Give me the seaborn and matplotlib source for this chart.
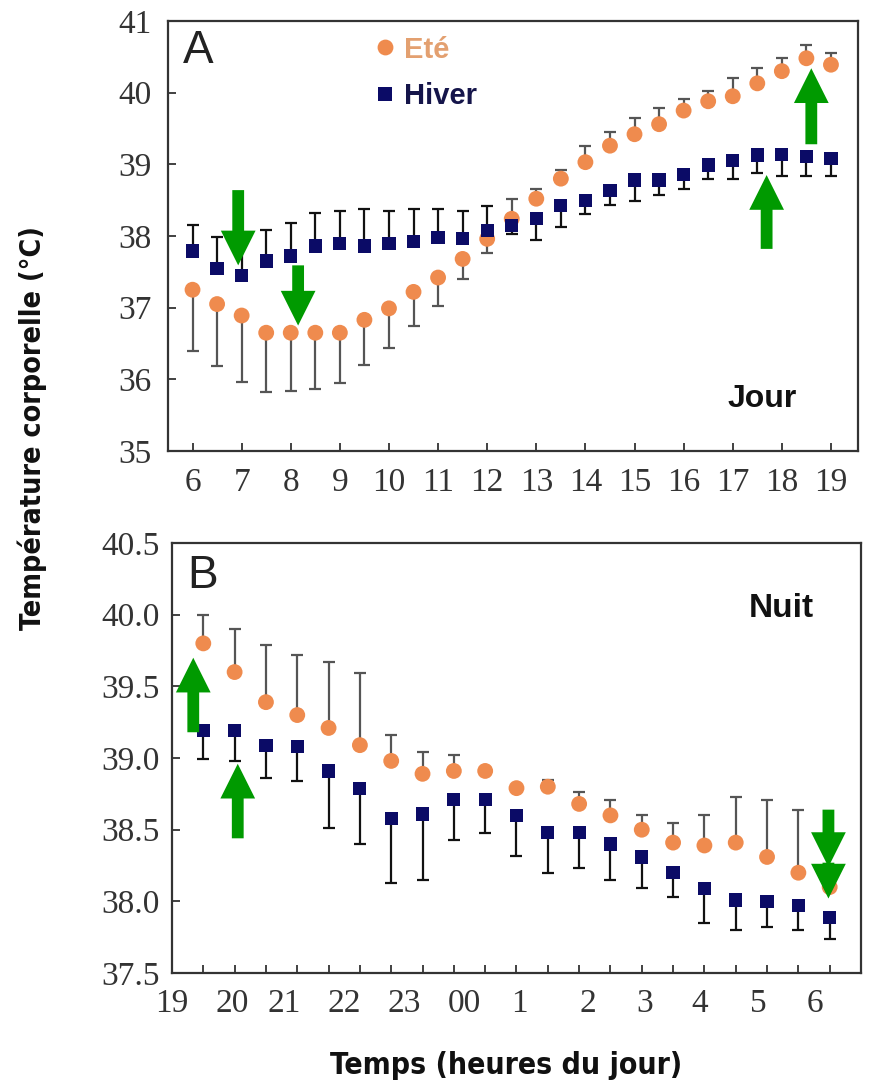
import numpy as np
import pandas as pd
import matplotlib
matplotlib.use("Agg")
import matplotlib.pyplot as plt
from matplotlib import font_manager as fm
import seaborn as sns

# --- Données ---
# Jour : de 6h à 19h, toutes les demi-heures
heures_jour = [6, 6.5, 7, 7.5, 8, 8.5, 9, 9.5, 10, 10.5, 11, 11.5, 12, 12.5,
               13, 13.5, 14, 14.5, 15, 15.5, 16, 16.5, 17, 17.5, 18, 18.5, 19]
ete_jour = [37.25, 37.05, 36.89, 36.65, 36.65, 36.65, 36.65, 36.83, 36.99, 37.22,
            37.42, 37.68, 37.96, 38.24, 38.52, 38.80, 39.03, 39.26, 39.42, 39.56,
            39.75, 39.88, 39.95, 40.13, 40.30, 40.48, 40.39]
ete_jour_bout = [36.40, 36.18, 35.96, 35.82, 35.84, 35.87, 35.95, 36.20, 36.44, 36.75,
                 37.02, 37.40, 37.76, 38.52, 38.66, 38.92, 39.25, 39.45, 39.64, 39.78,
                 39.91, 40.02, 40.20, 40.34, 40.48, 40.67, 40.55]
hiver_jour = [37.79, 37.55, 37.45, 37.65, 37.72, 37.86, 37.89, 37.86, 37.89, 37.92,
              37.98, 37.96, 38.08, 38.15, 38.24, 38.42, 38.49, 38.63, 38.78, 38.78,
              38.86, 38.99, 39.05, 39.13, 39.14, 39.11, 39.08]
hiver_jour_bout = [38.15, 37.98, 37.95, 38.08, 38.18, 38.32, 38.35, 38.38, 38.35, 38.38,
                   38.38, 38.35, 38.42, 38.03, 37.94, 38.12, 38.31, 38.43, 38.49, 38.57,
                   38.66, 38.80, 38.80, 38.88, 38.84, 38.84, 38.84]

# Nuit : de 19h30 à 5h30 (axe continu, 24 = minuit)
heures_nuit = [19.5, 20, 20.5, 21, 21.5, 22, 22.5, 23, 23.5, 24, 24.5,
               25, 25.5, 26, 26.5, 27, 27.5, 28, 28.5, 29, 29.5]
ete_nuit = [39.80, 39.60, 39.39, 39.30, 39.21, 39.09, 38.98, 38.89, 38.91, 38.91, 38.79,
            38.80, 38.68, 38.60, 38.50, 38.41, 38.39, 38.41, 38.31, 38.20, 38.10]
ete_nuit_bout = [40.00, 39.90, 39.79, 39.72, 39.67, 39.59, 39.16, 39.04, 39.02, 38.91, 38.79,
                 38.85, 38.76, 38.71, 38.60, 38.55, 38.60, 38.73, 38.71, 38.64, 38.10]
hiver_nuit = [39.19, 39.19, 39.09, 39.08, 38.91, 38.79, 38.58, 38.61, 38.71, 38.71, 38.60,
              38.48, 38.48, 38.40, 38.31, 38.20, 38.09, 38.01, 38.00, 37.97, 37.89]
hiver_nuit_bout = [38.99, 38.98, 38.86, 38.84, 38.51, 38.40, 38.13, 38.15, 38.43, 38.48, 38.32,
                   38.20, 38.23, 38.15, 38.09, 38.03, 37.85, 37.80, 37.82, 37.80, 37.74]

ticks_jour = list(range(6, 20))
labels_nuit = ['19', '20', '21', '22', '23', '00', '1', '2', '3', '4', '5', '6']
pos_labels_nuit = [19.0, 19.96, 20.79, 21.75, 22.71, 23.67, 24.55, 25.64, 26.55, 27.43, 28.36, 29.27]

# fleches vertes : (x, queue, pointe)
fleches_jour = [(6.93, 38.64, 37.59), (8.15, 37.59, 36.75),
                (17.69, 37.82, 38.85), (18.6, 39.28, 40.34)]
fleches_nuit = [(19.34, 39.18, 39.70), (20.05, 38.44, 38.96),
                (29.48, 38.64, 38.24), (29.48, 38.27, 38.02)]

ORANGE = '#EF8B4E'
NAVY = '#0B0B66'
VERT = '#009A00'
GRIS = '#333333'

sns.set_theme(style='white')
plt.rcParams['font.family'] = ['Liberation Sans', 'DejaVu Sans']

# police étroite et grasse pour les titres d'axes (si disponible)
etroite = None
for f in fm.fontManager.ttflist:
    nom = (f.name + ' ' + str(f.stretch)).lower()
    if ('narrow' in nom or 'condensed' in nom) and str(f.weight) in ('bold', '700'):
        etroite = fm.FontProperties(fname=f.fname)
        break


def tableau(heures, ete, ete_b, hiver, hiver_b):
    d1 = pd.DataFrame({'heure': heures, 'temp': ete, 'bout': ete_b, 'saison': 'Eté'})
    d2 = pd.DataFrame({'heure': heures, 'temp': hiver, 'bout': hiver_b, 'saison': 'Hiver'})
    return pd.concat([d1, d2], ignore_index=True)


def tracer(ax, df, legende):
    for saison, couleur in [('Eté', '#555555'), ('Hiver', '#111111')]:
        d = df[df.saison == saison]
        bas = np.clip(d.temp - d.bout, 0, None)
        haut = np.clip(d.bout - d.temp, 0, None)
        ax.errorbar(d.heure, d.temp, yerr=[bas, haut], fmt='none', ecolor=couleur,
                    elinewidth=1.6, capsize=4, capthick=1.6, zorder=2)
    sns.scatterplot(data=df, x='heure', y='temp', hue='saison', style='saison', size='saison',
                    palette={'Eté': ORANGE, 'Hiver': NAVY},
                    markers={'Eté': 'o', 'Hiver': 's'},
                    sizes={'Eté': 130, 'Hiver': 90},
                    linewidth=0, legend=legende, ax=ax, zorder=3)
    ax.set_xlabel('')
    ax.set_ylabel('')
    for s in ax.spines.values():
        s.set_color(GRIS)
        s.set_linewidth(1.6)
        s.set_visible(True)
    ax.tick_params(direction='in', length=6, width=1.3, color=GRIS, labelcolor=GRIS,
                   left=True, bottom=True)


def fleches(ax, liste):
    for x, queue, pointe in liste:
        ax.annotate('', xy=(x, pointe), xytext=(x, queue),
                    arrowprops=dict(facecolor=VERT, edgecolor='none', width=8.5,
                                    headwidth=25, headlength=25, shrink=0),
                    zorder=5)


fig = plt.figure(figsize=(8.69, 10.82), dpi=100)
axA = fig.add_axes([0.1933, 0.5832, 0.794, 0.3974])
axB = fig.add_axes([0.1979, 0.1007, 0.7929, 0.3974])

# --- Panneau A : jour ---
dfA = tableau(heures_jour, ete_jour, ete_jour_bout, hiver_jour, hiver_jour_bout)
tracer(axA, dfA, True)
axA.set_xlim(5.5, 19.55)
axA.set_ylim(35, 41)
axA.set_xticks(ticks_jour)
axA.set_xticklabels([str(t) for t in ticks_jour])
axA.set_yticks(range(35, 42))
axA.set_yticklabels([str(t) for t in range(35, 42)])
axA.tick_params(axis='x', pad=12, labelsize=24)
axA.tick_params(axis='y', pad=12, labelsize=24)
for lab in axA.get_xticklabels() + axA.get_yticklabels():
    lab.set_fontfamily(['Liberation Serif', 'DejaVu Serif'])

leg = axA.get_legend()
poignees = leg.legend_handles
textes = [t.get_text() for t in leg.get_texts()]
leg.remove()
axA.legend(poignees, textes, loc='upper left', bbox_to_anchor=(0.256, 1.027),
           frameon=False, handletextpad=0.15, labelspacing=0.62, handlelength=1.0,
           prop={'family': 'Liberation Sans', 'weight': 'bold', 'size': 21},
           labelcolor=['#E3A070', '#15154A'])

axA.text(0.022, 0.902, 'A', transform=axA.transAxes, fontsize=33, color='#222222',
         ha='left', va='baseline')
axA.text(0.861, 0.102, 'Jour', transform=axA.transAxes, fontsize=23, fontweight='bold',
         color='#111111', ha='center', va='baseline')
fleches(axA, fleches_jour)

# --- Panneau B : nuit ---
dfB = tableau(heures_nuit, ete_nuit, ete_nuit_bout, hiver_nuit, hiver_nuit_bout)
tracer(axB, dfB, False)
axB.set_xlim(19, 30)
axB.set_ylim(37.5, 40.5)
axB.set_xticks(heures_nuit)
axB.set_xticklabels([])
axB.set_xticks(pos_labels_nuit, minor=True)
axB.set_xticklabels(labels_nuit, minor=True)
axB.tick_params(axis='x', which='minor', length=0, pad=11, labelsize=24, labelcolor=GRIS)
yt = np.arange(37.5, 40.51, 0.5)
axB.set_yticks(yt)
axB.set_yticklabels([f'{v:.1f}' for v in yt])
axB.tick_params(axis='y', pad=9, labelsize=24)
for lab in axB.get_xticklabels(minor=True) + axB.get_yticklabels():
    lab.set_fontfamily(['Liberation Serif', 'DejaVu Serif'])

axB.text(0.022, 0.895, 'B', transform=axB.transAxes, fontsize=33, color='#222222',
         ha='left', va='baseline')
axB.text(0.884, 0.828, 'Nuit', transform=axB.transAxes, fontsize=24, fontweight='bold',
         color='#111111', ha='center', va='baseline')
fleches(axB, fleches_nuit)

# --- titres d'axes communs ---
titres = [(32 / 869, 1 - 428 / 1082, 'Température corporelle (°C)', 90, 403),
          (506 / 869, 1 - 1066 / 1082, 'Temps (heures du jour)', 0, 352)]
rendu = fig.canvas.get_renderer()
for x, y, txt, rot, largeur in titres:
    if etroite is not None:
        t = fig.text(x, y, txt, rotation=rot, ha='center', va='center',
                     fontproperties=etroite, color='#111111')
    else:
        t = fig.text(x, y, txt, rotation=rot, ha='center', va='center',
                     family='Liberation Sans', fontweight='bold', color='#111111')
    t.set_fontsize(23)
    bb = t.get_window_extent(rendu)
    actuel = bb.height if rot else bb.width
    t.set_fontsize(23 * largeur / actuel)

fig.savefig('out.png', dpi=100)
